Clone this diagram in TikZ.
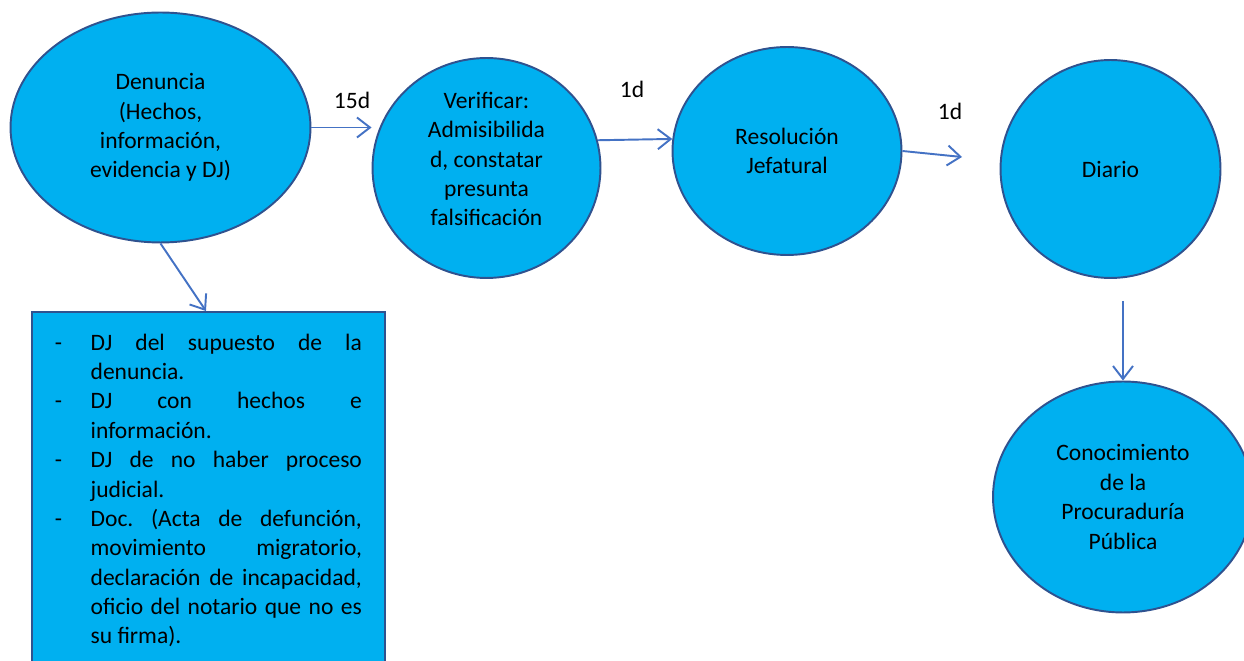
\documentclass[tikz,border=0pt]{standalone}
\usepackage{fontspec}
\setmainfont{Carlito}
\usetikzlibrary{shapes.geometric,arrows.meta}
\definecolor{stagefill}{HTML}{00B0F0}
\definecolor{stageline}{HTML}{2F528F}
\definecolor{flowblue}{HTML}{4472C4}
\hyphenpenalty=10000
\newcommand{\guion}[1]{\hangindent=0.714cm\hangafter=1\noindent\makebox[0.714cm][l]{-}#1\par}

\begin{document}
\begin{tikzpicture}[x=0.02cm, y=-0.02cm,
    font=\fontsize{13.4}{16.7}\selectfont,
    stage/.style={ellipse, draw=stageline, line width=1.1pt, fill=stagefill, inner sep=0pt, align=center},
    flow/.style={draw=flowblue, line width=1.1pt, -{Straight Barb[length=0.26cm, width=0.4cm]}}]

    \useasboundingbox (0,0) rectangle (1244,661);

    \node[stage, minimum width=6cm, minimum height=4.6cm] (denuncia) at (160.5,127.5) {Denuncia\\(Hechos,\\información,\\evidencia y DJ)};
    \node[stage, minimum width=4.56cm, minimum height=4.4cm] (verificar) at (486.5,168) {};
    \node[align=center] (verificarTexto) at (486.5,159) {Verificar:\\Admisibilida\\d, constatar\\presunta\\falsificación};
    \node[stage, minimum width=4.58cm, minimum height=4.16cm] (resolucion) at (787,151) {Resolución\\Jefatural};
    \node[stage, minimum width=4.4cm, minimum height=4.36cm] (diario) at (1110.5,169) {Diario};
    \node[stage, minimum width=5.2cm, minimum height=4.62cm] (conocimiento) at (1123,497) {Conocimiento\\de la\\Procuraduría\\Pública};

    \node[anchor=north west, draw=stageline, line width=1.1pt, fill=stagefill, text width=6.14cm, inner xsep=0.46cm, inner ysep=0.44cm, text depth=7cm, align=justify] (docs) at (31,311) {\frenchspacing
        \guion{DJ del supuesto de la\linebreak denuncia.}
        \guion{DJ con hechos e\linebreak información.}
        \guion{DJ de no haber proceso\linebreak judicial.}
        \guion{Doc. (Acta de defunción,\linebreak movimiento migratorio,\linebreak declaración de incapacidad,\linebreak oficio del notario que no es\linebreak su firma).}};

    % plazos
    \node (plazo15) at (352,100) {15d};
    \node (plazo1a) at (632,89) {1d};
    \node (plazo1b) at (950,111) {1d};

    \coordinate (haciaDiario) at (962,157);
    \coordinate (desdeDiario) at (1123,301);

    \draw[flow] (denuncia.east) -- (denuncia.east -| verificar.west);
    \draw[flow] (verificar.14) -- (resolucion.174);
    \draw[flow] (resolucion.east) -- (haciaDiario);
    \draw[flow] (desdeDiario) -- (conocimiento.north);
    \draw[flow] (denuncia.south) -- ([xshift=3.5cm]docs.north west);

\end{tikzpicture}
\end{document}
